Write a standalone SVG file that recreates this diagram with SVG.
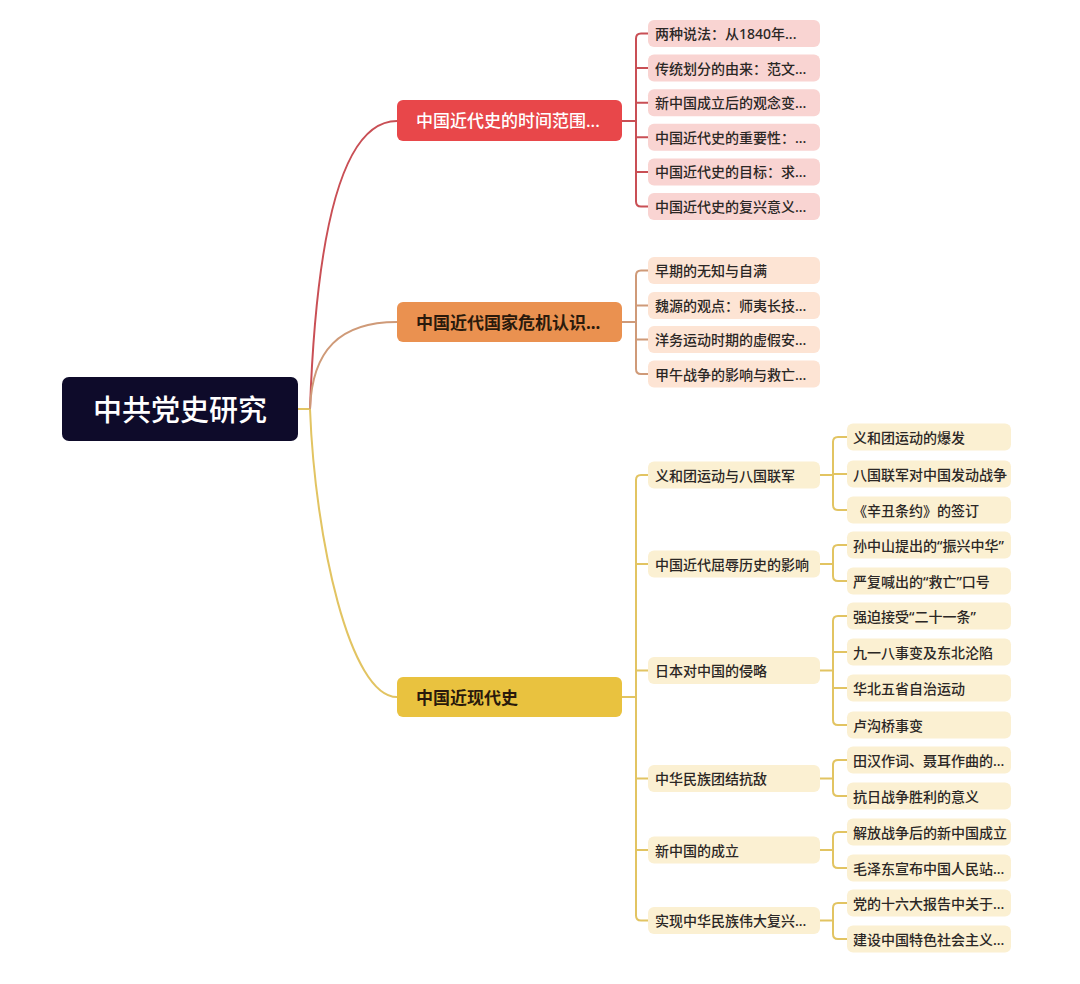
<svg xmlns="http://www.w3.org/2000/svg" width="1080" height="984" viewBox="0 0 1080 984">
<style>
text{font-family:"Noto Sans","Noto Sans CJK SC",sans-serif;dominant-baseline:central}
.root{fill:#0e0b2a}
.rootT{fill:#ffffff;font-size:29px;font-weight:500}
.b1{fill:#e8474a}
.b2{fill:#ea9150}
.b3{fill:#e9c23f}
.b1T{fill:#ffffff;font-size:17px;font-weight:500}
.bT{fill:#2a1a0c;font-size:17px;font-weight:700}
.l1{fill:#f9d4d2}
.l2{fill:#fde4d4}
.l3{fill:#fbf0d2}
.lT{fill:#2b2725;font-size:14px;font-weight:500}
.c1{fill:none;stroke:#c94f55;stroke-width:2}
.c2{fill:none;stroke:#cf9a78;stroke-width:2}
.c3{fill:none;stroke:#e2c462;stroke-width:2}
</style>
<rect width="1080" height="984" fill="#ffffff"/>
<g id="connectors">
<path class="c3" d="M298 409 H310"/>
<path class="c1" d="M310 409 C316 240 340 121 397 121"/>
<path class="c2" d="M310 409 C312 350 340 322 397 322"/>
<path class="c3" d="M310 409 C315 540 350 697 397 697"/>
<path class="c1" d="M622 121 H636 M648 33.5 H641 Q636 33.5 636 38.5 V201.5 Q636 206.5 641 206.5 H648 M636 68.1 H648 M636 102.7 H648 M636 137.3 H648 M636 171.9 H648"/>
<path class="c2" d="M622 322 H636 M648 270.5 H641 Q636 270.5 636 275.5 V369 Q636 374 641 374 H648 M636 305.5 H648 M636 339.5 H648"/>
<path class="c3" d="M622 697 H636 M648 475 H641 Q636 475 636 480 V915.5 Q636 920.5 641 920.5 H648 M636 564 H648 M636 670.5 H648 M636 778.5 H648 M636 850 H648"/>
<path class="c3" d="M820 475 H833 M847 437 H838 Q833 437 833 442 V505 Q833 510 838 510 H847 M833 474 H847"/>
<path class="c3" d="M820 564 H833 M847 545 H838 Q833 545 833 550 V576 Q833 581 838 581 H847"/>
<path class="c3" d="M820 670.5 H833 M847 616 H838 Q833 616 833 621 V720 Q833 725 838 725 H847 M833 652 H847 M833 688 H847"/>
<path class="c3" d="M820 778.5 H833 M847 760 H838 Q833 760 833 765 V791 Q833 796 838 796 H847"/>
<path class="c3" d="M820 850 H833 M847 832 H838 Q833 832 833 837 V863 Q833 868 838 868 H847"/>
<path class="c3" d="M820 920.5 H833 M847 903 H838 Q833 903 833 908 V934 Q833 939 838 939 H847"/>
</g>
<g id="n-root"><rect class="root" x="62" y="377" width="236" height="64" rx="7"/><text class="rootT" x="180" y="409" text-anchor="middle">中共党史研究</text></g>
<g id="n-b1"><rect class="b1" x="397" y="100" width="225" height="41" rx="6"/><text class="b1T" x="416" y="120.5">中国近代史的时间范围...</text></g>
<g id="n-b1-1"><rect class="l1" x="648" y="20" width="172" height="27" rx="6"/><text class="lT" x="655" y="33.5">两种说法：从1840年...</text></g>
<g id="n-b1-2"><rect class="l1" x="648" y="54.6" width="172" height="27" rx="6"/><text class="lT" x="655" y="68.1">传统划分的由来：范文...</text></g>
<g id="n-b1-3"><rect class="l1" x="648" y="89.2" width="172" height="27" rx="6"/><text class="lT" x="655" y="102.7">新中国成立后的观念变...</text></g>
<g id="n-b1-4"><rect class="l1" x="648" y="123.8" width="172" height="27" rx="6"/><text class="lT" x="655" y="137.3">中国近代史的重要性：...</text></g>
<g id="n-b1-5"><rect class="l1" x="648" y="158.4" width="172" height="27" rx="6"/><text class="lT" x="655" y="171.9">中国近代史的目标：求...</text></g>
<g id="n-b1-6"><rect class="l1" x="648" y="193" width="172" height="27" rx="6"/><text class="lT" x="655" y="206.5">中国近代史的复兴意义...</text></g>
<g id="n-b2"><rect class="b2" x="397" y="302" width="225" height="40" rx="6"/><text class="bT" x="416" y="322">中国近代国家危机认识...</text></g>
<g id="n-b2-1"><rect class="l2" x="648" y="257" width="172" height="27" rx="6"/><text class="lT" x="655" y="270.5">早期的无知与自满</text></g>
<g id="n-b2-2"><rect class="l2" x="648" y="292" width="172" height="27" rx="6"/><text class="lT" x="655" y="305.5">魏源的观点：师夷长技...</text></g>
<g id="n-b2-3"><rect class="l2" x="648" y="326" width="172" height="27" rx="6"/><text class="lT" x="655" y="339.5">洋务运动时期的虚假安...</text></g>
<g id="n-b2-4"><rect class="l2" x="648" y="360.5" width="172" height="27" rx="6"/><text class="lT" x="655" y="374">甲午战争的影响与救亡...</text></g>
<g id="n-b3"><rect class="b3" x="397" y="677" width="225" height="40" rx="6"/><text class="bT" x="416" y="697">中国近现代史</text></g>
<g id="n-s1"><rect class="l3" x="648" y="461.5" width="172" height="27" rx="6"/><text class="lT" x="655" y="475">义和团运动与八国联军</text></g>
<g id="n-s2"><rect class="l3" x="648" y="550.5" width="172" height="27" rx="6"/><text class="lT" x="655" y="564">中国近代屈辱历史的影响</text></g>
<g id="n-s3"><rect class="l3" x="648" y="657" width="172" height="27" rx="6"/><text class="lT" x="655" y="670.5">日本对中国的侵略</text></g>
<g id="n-s4"><rect class="l3" x="648" y="765" width="172" height="27" rx="6"/><text class="lT" x="655" y="778.5">中华民族团结抗敌</text></g>
<g id="n-s5"><rect class="l3" x="648" y="836.5" width="172" height="27" rx="6"/><text class="lT" x="655" y="850">新中国的成立</text></g>
<g id="n-s6"><rect class="l3" x="648" y="907" width="172" height="27" rx="6"/><text class="lT" x="655" y="920.5">实现中华民族伟大复兴...</text></g>
<g id="n-s1-1"><rect class="l3" x="847" y="423.5" width="164" height="27" rx="6"/><text class="lT" x="853" y="437">义和团运动的爆发</text></g>
<g id="n-s1-2"><rect class="l3" x="847" y="460.5" width="164" height="27" rx="6"/><text class="lT" x="853" y="474">八国联军对中国发动战争</text></g>
<g id="n-s1-3"><rect class="l3" x="847" y="496.5" width="164" height="27" rx="6"/><text class="lT" x="853" y="510">《辛丑条约》的签订</text></g>
<g id="n-s2-1"><rect class="l3" x="847" y="531.5" width="164" height="27" rx="6"/><text class="lT" x="853" y="545">孙中山提出的“振兴中华”</text></g>
<g id="n-s2-2"><rect class="l3" x="847" y="567.5" width="164" height="27" rx="6"/><text class="lT" x="853" y="581">严复喊出的“救亡”口号</text></g>
<g id="n-s3-1"><rect class="l3" x="847" y="602.5" width="164" height="27" rx="6"/><text class="lT" x="853" y="616">强迫接受“二十一条”</text></g>
<g id="n-s3-2"><rect class="l3" x="847" y="638.5" width="164" height="27" rx="6"/><text class="lT" x="853" y="652">九一八事变及东北沦陷</text></g>
<g id="n-s3-3"><rect class="l3" x="847" y="674.5" width="164" height="27" rx="6"/><text class="lT" x="853" y="688">华北五省自治运动</text></g>
<g id="n-s3-4"><rect class="l3" x="847" y="711.5" width="164" height="27" rx="6"/><text class="lT" x="853" y="725">卢沟桥事变</text></g>
<g id="n-s4-1"><rect class="l3" x="847" y="746.5" width="164" height="27" rx="6"/><text class="lT" x="853" y="760">田汉作词、聂耳作曲的...</text></g>
<g id="n-s4-2"><rect class="l3" x="847" y="782.5" width="164" height="27" rx="6"/><text class="lT" x="853" y="796">抗日战争胜利的意义</text></g>
<g id="n-s5-1"><rect class="l3" x="847" y="818.5" width="164" height="27" rx="6"/><text class="lT" x="853" y="832">解放战争后的新中国成立</text></g>
<g id="n-s5-2"><rect class="l3" x="847" y="854.5" width="164" height="27" rx="6"/><text class="lT" x="853" y="868">毛泽东宣布中国人民站...</text></g>
<g id="n-s6-1"><rect class="l3" x="847" y="889.5" width="164" height="27" rx="6"/><text class="lT" x="853" y="903">党的十六大报告中关于...</text></g>
<g id="n-s6-2"><rect class="l3" x="847" y="925.5" width="164" height="27" rx="6"/><text class="lT" x="853" y="939">建设中国特色社会主义...</text></g>
</svg>
